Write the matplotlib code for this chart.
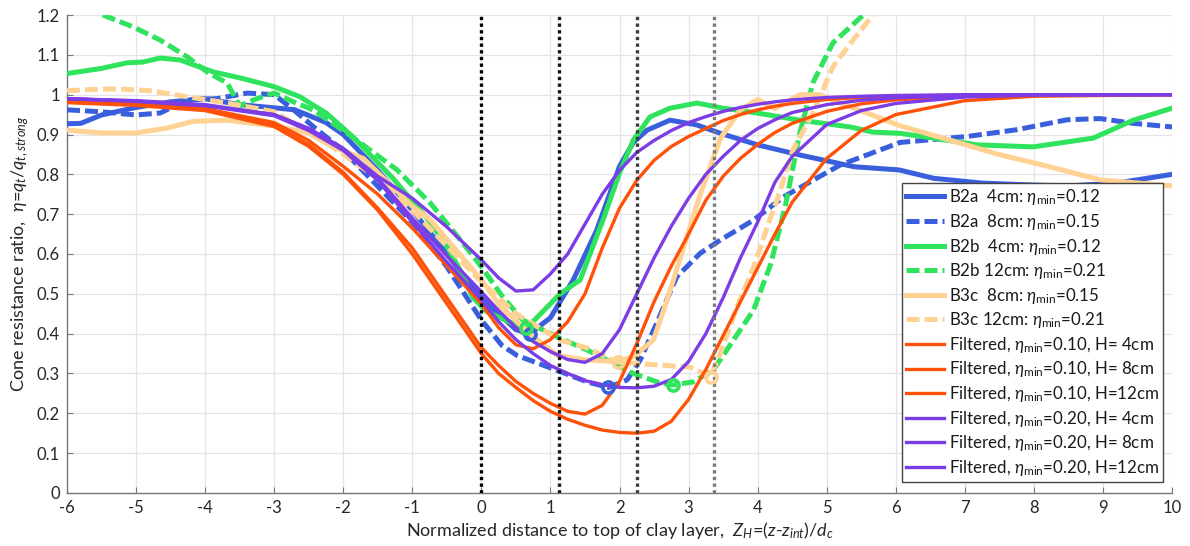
import matplotlib
matplotlib.use("Agg")
import matplotlib.pyplot as plt

# ---------------- data ----------------
b2a4_x = [-6, -5.8, -5.5, -5.0, -4.5, -4.0, -3.5, -3.0, -2.7, -2.25, -2.0, -1.5, -1.0, -0.5, 0.0, 0.5, 0.7, 1.0,
          1.33, 1.67, 2.0, 2.2, 2.4, 2.73, 3.12, 3.46, 4.0, 4.6, 5.4, 6.05, 6.55, 7.25, 8.0, 8.5, 9.2, 10]
b2a4_y = [0.927, 0.928, 0.949, 0.968, 0.982, 0.99, 0.975, 0.967, 0.962, 0.93, 0.90, 0.81, 0.71, 0.60, 0.49, 0.41,
          0.40, 0.44, 0.535, 0.66, 0.82, 0.88, 0.911, 0.936, 0.924, 0.903, 0.874, 0.849, 0.819, 0.811, 0.79, 0.778,
          0.773, 0.771, 0.778, 0.80]

b2a8_x = [-6, -5.5, -5.0, -4.65, -4.26, -3.83, -3.39, -3.0, -2.72, -2.4, -2.0, -1.5, -1.0, -0.5, 0.0, 0.3,
          0.52, 1.14, 1.53, 1.84, 2.11, 2.30, 2.54, 2.83, 3.17, 3.46, 3.94, 4.37, 5.19, 6.06, 7.03, 7.75, 8.48,
          8.96, 9.44, 10]
b2a8_y = [0.962, 0.957, 0.949, 0.954, 0.987, 0.99, 1.004, 1.0, 0.962, 0.915, 0.86, 0.77, 0.68, 0.568, 0.434,
          0.37, 0.345, 0.305, 0.279, 0.265, 0.284, 0.334, 0.427, 0.543, 0.602, 0.635, 0.685, 0.743, 0.823, 0.88,
          0.895, 0.912, 0.937, 0.94, 0.928, 0.919]

b2b4_x = [-6, -5.5, -5.13, -4.9, -4.65, -4.36, -3.88, -3.49, -3.0, -2.63, -2.24, -1.86, -1.28, -0.79, -0.5,
          -0.31, -0.12, 0.08, 0.4, 0.65, 1.14, 1.43, 1.76, 2.0, 2.2, 2.44, 2.73, 3.12, 3.5, 3.99, 4.61, 5.34,
          5.67, 6.06, 6.54, 7.18, 7.99, 8.86, 9.44, 10]
b2b4_y = [1.053, 1.066, 1.08, 1.082, 1.092, 1.087, 1.057, 1.042, 1.02, 0.995, 0.953, 0.894, 0.79, 0.69, 0.62,
          0.56, 0.49, 0.455, 0.43, 0.413, 0.50, 0.535, 0.685, 0.803, 0.886, 0.944, 0.966, 0.979, 0.966, 0.954,
          0.936, 0.919, 0.906, 0.903, 0.891, 0.874, 0.869, 0.891, 0.936, 0.966]

b2b12_x = [-5.48, -5.04, -4.65, -4.26, -3.97, -3.68, -3.5, -3.25, -3.0, -2.72, -2.44, -1.95, -1.22, -0.74,
           -0.27, 0.0, 0.31, 0.6, 1.12, 1.53, 1.91, 2.2, 2.54, 2.77, 3.07, 3.36, 3.65, 3.94, 4.19, 4.4, 4.61,
           4.8, 5.09, 5.53]
b2b12_y = [1.2, 1.17, 1.137, 1.095, 1.057, 1.029, 0.972, 0.99, 1.004, 0.982, 0.962, 0.904, 0.811, 0.728,
           0.628, 0.568, 0.492, 0.434, 0.39, 0.359, 0.326, 0.30, 0.279, 0.271, 0.279, 0.309, 0.384, 0.459,
           0.575, 0.72, 0.903, 1.03, 1.13, 1.2]

b3c8_x = [-6, -5.5, -5.0, -4.55, -4.17, -3.68, -3.0, -2.52, -2.15, -1.71, -1.0, -0.74, 0.0, 0.27, 0.7, 1.1,
          1.53, 1.95, 2.2, 2.49, 2.69, 2.93, 3.17, 3.46, 3.75, 4.0, 4.25, 4.61, 4.9, 5.19, 5.58, 6.06, 6.78,
          7.51, 8.23, 8.96, 10]
b3c8_y = [0.911, 0.904, 0.904, 0.916, 0.933, 0.936, 0.921, 0.905, 0.869, 0.84, 0.72, 0.686, 0.535, 0.47,
          0.40, 0.345, 0.334, 0.33, 0.342, 0.384, 0.485, 0.618, 0.75, 0.89, 0.962, 0.988, 0.965, 1.0, 1.0,
          0.979, 0.954, 0.922, 0.886, 0.849, 0.819, 0.786, 0.771]

b3c12_x = [-6, -5.5, -5.2, -4.8, -4.26, -3.68, -3.3, -3.0, -2.24, -1.5, -1.0, -0.5, 0.0, 0.5, 1.14, 1.53,
           1.96, 2.2, 2.59, 3.02, 3.17, 3.31, 3.46, 3.7, 3.94, 4.19, 4.28, 4.51, 4.8, 5.09, 5.38, 5.67]
b3c12_y = [1.01, 1.014, 1.014, 1.01, 0.995, 0.979, 0.967, 0.957, 0.879, 0.79, 0.71, 0.62, 0.53, 0.45, 0.384,
           0.364, 0.329, 0.326, 0.321, 0.316, 0.304, 0.289, 0.35, 0.467, 0.567, 0.693, 0.735, 0.861, 0.954,
           1.07, 1.137, 1.2]

# minima markers of measured series
min_x = [0.70, 1.84, 0.65, 2.77, 1.98, 3.33]
min_y = [0.400, 0.265, 0.413, 0.271, 0.330, 0.292]

# filtered curves (common abscissa)
filt_x = [-6, -5, -4, -3, -2.5, -2, -1.5, -1, -0.5, 0, 0.25, 0.5, 0.75, 1, 1.25, 1.5, 1.75, 2, 2.25, 2.5,
          2.75, 3, 3.25, 3.5, 3.75, 4, 4.25, 4.5, 5, 5.5, 6, 7, 8, 10]
f010_h4 = [0.985, 0.978, 0.965, 0.93, 0.885, 0.82, 0.75, 0.665, 0.57, 0.475, 0.415, 0.372, 0.362, 0.385, 0.43,
           0.50, 0.615, 0.715, 0.785, 0.835, 0.87, 0.895, 0.915, 0.935, 0.95, 0.962, 0.971, 0.978, 0.988,
           0.993, 0.996, 0.999, 1.0, 1.0]
f010_h8 = [0.982, 0.975, 0.962, 0.922, 0.875, 0.805, 0.715, 0.615, 0.49, 0.365, 0.32, 0.28, 0.25, 0.225, 0.205,
           0.198, 0.22, 0.28, 0.375, 0.48, 0.57, 0.65, 0.735, 0.795, 0.84, 0.875, 0.905, 0.928, 0.958, 0.977,
           0.987, 0.996, 0.999, 1.0]
f010_h12 = [0.98, 0.973, 0.96, 0.92, 0.87, 0.80, 0.71, 0.60, 0.475, 0.35, 0.30, 0.265, 0.232, 0.205, 0.185,
            0.17, 0.158, 0.152, 0.15, 0.155, 0.18, 0.235, 0.31, 0.395, 0.48, 0.565, 0.65, 0.73, 0.84, 0.91,
            0.95, 0.985, 0.996, 1.0]
f020_h4 = [0.99, 0.985, 0.975, 0.95, 0.915, 0.865, 0.795, 0.74, 0.668, 0.585, 0.54, 0.507, 0.51, 0.55, 0.60,
           0.675, 0.75, 0.81, 0.855, 0.885, 0.91, 0.93, 0.945, 0.958, 0.968, 0.976, 0.982, 0.987, 0.993,
           0.996, 0.998, 1.0, 1.0, 1.0]
f020_h8 = [0.99, 0.984, 0.973, 0.95, 0.915, 0.865, 0.79, 0.69, 0.595, 0.505, 0.458, 0.415, 0.38, 0.355, 0.335,
           0.328, 0.35, 0.41, 0.50, 0.59, 0.67, 0.74, 0.80, 0.845, 0.885, 0.915, 0.937, 0.955, 0.975, 0.986,
           0.992, 0.998, 1.0, 1.0]
f020_h12 = [0.99, 0.983, 0.972, 0.947, 0.91, 0.86, 0.785, 0.68, 0.58, 0.485, 0.43, 0.385, 0.35, 0.32, 0.30,
            0.282, 0.272, 0.265, 0.264, 0.268, 0.285, 0.33, 0.40, 0.49, 0.59, 0.68, 0.78, 0.845, 0.925, 0.96,
            0.978, 0.994, 0.999, 1.0]

zh_lines = [0.0, 1.124, 2.247, 3.371]
zh_colors = ['#000000', '#151515', '#3c3c3c', '#7a7a7a']

labels = [r'B2a  4cm: $\eta_{\mathrm{min}}$=0.12',
          r'B2a  8cm: $\eta_{\mathrm{min}}$=0.15',
          r'B2b  4cm: $\eta_{\mathrm{min}}$=0.12',
          r'B2b 12cm: $\eta_{\mathrm{min}}$=0.21',
          r'B3c  8cm: $\eta_{\mathrm{min}}$=0.15',
          r'B3c 12cm: $\eta_{\mathrm{min}}$=0.21',
          r'Filtered, $\eta_{\mathrm{min}}$=0.10, H= 4cm',
          r'Filtered, $\eta_{\mathrm{min}}$=0.10, H= 8cm',
          r'Filtered, $\eta_{\mathrm{min}}$=0.10, H=12cm',
          r'Filtered, $\eta_{\mathrm{min}}$=0.20, H= 4cm',
          r'Filtered, $\eta_{\mathrm{min}}$=0.20, H= 8cm',
          r'Filtered, $\eta_{\mathrm{min}}$=0.20, H=12cm']

xticks = list(range(-6, 11))
yticks = [0, 0.1, 0.2, 0.3, 0.4, 0.5, 0.6, 0.7, 0.8, 0.9, 1.0, 1.1, 1.2]
ytick_labels = ['0', '0.1', '0.2', '0.3', '0.4', '0.5', '0.6', '0.7', '0.8', '0.9', '1', '1.1', '1.2']

# ---------------- style ----------------
plt.rcParams['font.family'] = ['Lato', 'DejaVu Sans']
plt.rcParams['mathtext.fontset'] = 'custom'
plt.rcParams['mathtext.rm'] = 'Lato'
plt.rcParams['mathtext.it'] = 'Lato:italic'

BLUE = '#3a5fdc'
GREEN = '#2fe35c'
LORANGE = '#ffd192'
ORANGE = '#ff5208'
PURPLE = '#7c3ce6'

fig = plt.figure(figsize=(11.9, 5.46), dpi=100)
ax = fig.add_axes([0.0563, 0.0971, 0.9286, 0.8754])

lwd = 3.6
lwf = 2.4
dash = (2.6, 1.0)

series = [
    (b2a4_x, b2a4_y, BLUE, '-'),
    (b2a8_x, b2a8_y, BLUE, '--'),
    (b2b4_x, b2b4_y, GREEN, '-'),
    (b2b12_x, b2b12_y, GREEN, '--'),
    (b3c8_x, b3c8_y, LORANGE, '-'),
    (b3c12_x, b3c12_y, LORANGE, '--'),
]
handles = []
for (xs, ys, c, ls) in series:
    if ls == '--':
        h, = ax.plot(xs, ys, color=c, lw=lwd, dashes=dash, zorder=3)
    else:
        h, = ax.plot(xs, ys, color=c, lw=lwd, zorder=3)
    handles.append(h)

for ys, c in [(f010_h4, ORANGE), (f010_h8, ORANGE), (f010_h12, ORANGE),
              (f020_h4, PURPLE), (f020_h8, PURPLE), (f020_h12, PURPLE)]:
    h, = ax.plot(filt_x, ys, color=c, lw=lwf, zorder=4)
    handles.append(h)

for xv, c in zip(zh_lines, zh_colors):
    ax.axvline(xv, color=c, lw=2.4, ls=(0, (1, 1)), zorder=5)

mcolors = [BLUE, BLUE, GREEN, GREEN, LORANGE, LORANGE]
for mx, my, c in zip(min_x, min_y, mcolors):
    ax.plot([mx], [my], 'o', ms=8, mfc='none', mec=c, mew=2.6, zorder=6)

ax.set_xlim(-6, 10)
ax.set_ylim(0, 1.2)
ax.set_xticks(xticks)
ax.set_xticklabels([str(v) for v in xticks])
ax.set_yticks(yticks)
ax.set_yticklabels(ytick_labels)
ax.grid(True, color='#e4e4e4', lw=0.9)
ax.set_axisbelow(True)
for s in ['top', 'right']:
    ax.spines[s].set_visible(False)
for s in ['left', 'bottom']:
    ax.spines[s].set_color('#777777')
    ax.spines[s].set_linewidth(1.0)
ax.tick_params(direction='in', length=4, color='#777777', labelsize=12, labelcolor='#262626', pad=5)

ax.set_ylabel(r'Cone resistance ratio,  $\eta$=$q_t/q_{t,strong}$', fontsize=13, color='#262626', labelpad=4)
ax.set_xlabel(r'Normalized distance to top of clay layer,  $Z_H$=$(z$-$z_{int})/d_c$', fontsize=13,
              color='#262626', labelpad=3)

leg = ax.legend(handles, labels, loc='lower right', bbox_to_anchor=(0.992, 0.023), fontsize=12.2,
                frameon=True, fancybox=False, framealpha=1, edgecolor='#444444', handlelength=2.2,
                handletextpad=0.3, labelspacing=0.27, borderpad=0.25, borderaxespad=0)
leg.get_frame().set_linewidth(1.0)
leg.set_zorder(10)
for t in leg.get_texts():
    t.set_color('#1a1a1a')

fig.savefig('out.png', dpi=100)
